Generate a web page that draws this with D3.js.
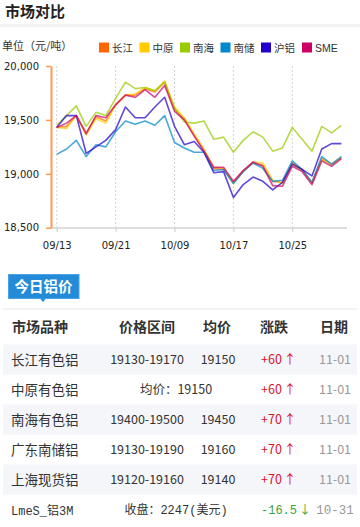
<!DOCTYPE html>
<html><head><meta charset="utf-8">
<script src="https://cdn.jsdelivr.net/npm/d3@7/dist/d3.min.js"></script>
<style>
html,body{margin:0;padding:0;background:#fff;}
svg{display:block;}
</style></head>
<body>
<script>
// ---------- data ----------
const dates = ["09/13","09/14","09/17","09/18","09/19","09/20","09/21","09/25","09/26","09/27","09/28","10/08","10/09","10/10","10/11","10/12","10/15","10/16","10/17","10/18","10/19","10/22","10/23","10/24","10/25","10/26","10/29","10/30","10/31","11/01"];
const xTickLabels = ["09/13","09/21","10/09","10/17","10/25"];
const yTickValues = [18500, 19000, 19500, 20000];

const seriesNames = ["长江","中原","南海","南储","沪铝","SME"];
const seriesColors = ["#ff6600","#ffcc00","#99cc00","#0088cc","#2200cc","#cc0066"];

const changjiang = [19430,19440,19540,19380,19530,19490,19640,19730,19730,19790,19760,19850,19600,19510,19360,19220,19050,19040,18920,19030,19100,19080,18930,18920,19100,19040,18920,19140,19090,19150];
const zhongyuan  = [19430,19420,19540,19360,19510,19470,19640,19730,19740,19800,19770,19860,19620,19520,19370,19230,19060,19050,18910,19020,19110,19100,18940,18910,19090,19030,18910,19130,19090,19150];
const nanhai     = [19450,19540,19630,19440,19570,19540,19700,19850,19790,19800,19770,19850,19610,19480,19470,19490,19320,19340,19200,19310,19390,19340,19210,19240,19430,19320,19210,19440,19380,19450];
const nanchu     = [19180,19230,19310,19160,19270,19250,19390,19490,19460,19490,19450,19540,19290,19240,19200,19200,19030,19040,18910,19020,19100,19050,18930,18940,19120,19040,18920,19160,19090,19160];
const hulv       = [19430,19540,19540,19190,19250,19310,19410,19620,19520,19520,19620,19710,19440,19270,19300,19200,19010,19020,18780,18900,18970,18930,18850,18920,19090,19040,18980,19230,19280,19280];
const sme        = [19430,19470,19540,19370,19540,19520,19640,19730,19710,19780,19710,19820,19580,19500,19350,19210,19060,19060,18930,19030,19110,19070,18890,18885,19070,19020,18900,19120,19070,19140];
const seriesValues = [changjiang, zhongyuan, nanhai, nanchu, hulv, sme];

const tableHeaders = ["市场品种","价格区间","均价","涨跌","日期"];
const tableNames   = ["长江有色铝","中原有色铝","南海有色铝","广东南储铝","上海现货铝","LmeS_铝3M"];
const tableRanges  = ["19130-19170","均价：19150","19400-19500","19130-19190","19120-19160","收盘：2247(美元)"];
const tableAvgs    = ["19150",null,"19450","19160","19140",null];
const tableChanges = ["+60","+60","+70","+70","+70","-16.5"];
const tableDates   = ["11-01","11-01","11-01","11-01","11-01","10-31"];

// ---------- drawing ----------
const W = 360, H = 527;
const svg = d3.select("body").append("svg").attr("width", W).attr("height", H);
const CJK = "'Noto Sans CJK SC', sans-serif";

// title
svg.append("text").attr("x", 5).attr("y", 16.5)
  .attr("font-family", CJK).attr("font-size", 15).attr("font-weight", "bold")
  .attr("fill", "#222").text("市场对比");
svg.append("rect").attr("x", 0).attr("y", 24).attr("width", W).attr("height", 3).attr("fill", "#f2f2f2");

// unit
svg.append("text").attr("x", 2).attr("y", 49.5)
  .attr("font-family", CJK).attr("font-size", 11).attr("fill", "#333").text("单位（元/吨）");

// legend
const legendX = [99, 139.5, 180, 220.5, 261, 302];
const lg = svg.append("g");
seriesNames.forEach((n, i) => {
  lg.append("rect").attr("x", legendX[i]).attr("y", 42.5).attr("width", 10).attr("height", 10).attr("fill", seriesColors[i]);
  lg.append("text").attr("x", legendX[i] + 13).attr("y", 51.5)
    .attr("font-family", i === 5 ? "'Liberation Sans', sans-serif" : CJK)
    .attr("font-size", 10.5).attr("fill", "#333").text(n);
});

// scales
const x = d3.scalePoint().domain(dates).range([56.7, 341.4]);
const y = d3.scaleLinear().domain([18500, 20000]).range([227.7, 66]);

// grid lines
const grid = svg.append("g");
xTickLabels.forEach(t => {
  grid.append("line").attr("x1", x(t)).attr("x2", x(t)).attr("y1", 66).attr("y2", 227)
    .attr("stroke", "#d4d4d4").attr("stroke-dasharray", "2,2").attr("stroke-width", 1);
});

// x axis
svg.append("line").attr("x1", 51).attr("x2", 347).attr("y1", 228).attr("y2", 228)
  .attr("stroke", "#dddddd").attr("stroke-width", 2);
const xAxis = svg.append("g").attr("transform", "translate(0,228)")
  .call(d3.axisBottom(x).tickValues(xTickLabels).tickSize(4).tickSizeOuter(0).tickPadding(10));
xAxis.select(".domain").remove();
xAxis.selectAll(".tick line").attr("stroke", "#cccccc");
xAxis.selectAll(".tick text").attr("font-family", "'DejaVu Sans', sans-serif").attr("font-size", 10)
  .attr("fill", "#222");

// y axis
const yAxis = svg.append("g").attr("transform", "translate(51,0)")
  .call(d3.axisLeft(y).tickValues(yTickValues).tickSize(5).tickSizeOuter(0).tickPadding(7).tickFormat(d3.format(",")));
yAxis.select(".domain").attr("stroke", "#ff9a55").attr("stroke-width", 2);
yAxis.selectAll(".tick line").attr("stroke", "#ff9a55").attr("stroke-width", 1.5);
yAxis.selectAll(".tick text").attr("font-family", "'DejaVu Sans', sans-serif").attr("font-size", 10)
  .attr("fill", "#222");

// lines
const line = d3.line().x((d, i) => x(dates[i])).y(d => y(d));
seriesValues.forEach((vals, i) => {
  svg.append("path").datum(vals).attr("d", line).attr("fill", "none")
    .attr("stroke", seriesColors[i]).attr("stroke-opacity", 0.72).attr("stroke-width", 1.6)
    .attr("stroke-linejoin", "round");
});

// tab
svg.append("rect").attr("x", 8.5).attr("y", 274.5).attr("width", 70.5).attr("height", 24)
  .attr("fill", "#248bd9").attr("stroke", "#4aa3e6").attr("stroke-width", 1);
svg.append("path").attr("d", "M40,298.5 L43,302 L46,298.5 Z").attr("fill", "#248bd9");
svg.append("text").attr("x", 43.5).attr("y", 292).attr("text-anchor", "middle")
  .attr("font-family", CJK).attr("font-size", 14.5).attr("font-weight", "bold").attr("fill", "#fff").text("今日铝价");
svg.append("rect").attr("x", 3).attr("y", 308.5).attr("width", 354).attr("height", 1).attr("fill", "#e6e6e6");

// table header
const colX = [12, 147, 217, 274, 334];
const header = svg.append("g");
tableHeaders.forEach((h, i) => {
  header.append("text").attr("x", colX[i]).attr("y", 332)
    .attr("text-anchor", i === 0 ? "start" : "middle")
    .attr("font-family", CJK).attr("font-size", 14).attr("font-weight", "bold").attr("fill", "#333").text(h);
});

// table rows
const rowCenters = tableNames.map((d, i) => 359.5 + i * 30);
tableNames.forEach((name, i) => {
  const cy = rowCenters[i];
  const g = svg.append("g");
  if (i % 2 === 0) {
    g.append("rect").attr("x", 3).attr("y", cy - 15).attr("width", 354).attr("height", 30).attr("fill", "#f5f6fa");
  }
  const isLme = i === 5;
  const mono = "'Liberation Mono', 'Noto Sans CJK SC', monospace";
  g.append("text").attr("x", 11).attr("y", cy + 5)
    .attr("font-family", isLme ? mono : CJK).attr("font-size", isLme ? 12 : 13.5).attr("fill", "#333").text(name);
  if (tableAvgs[i] === null) {
    g.append("text").attr("x", 176).attr("y", cy + 4.5).attr("text-anchor", "middle")
      .attr("font-family", isLme ? mono : CJK).attr("font-size", isLme ? 12 : 12.5).attr("fill", "#333").text(tableRanges[i]);
  } else {
    g.append("text").attr("x", 147).attr("y", cy + 4.5).attr("text-anchor", "middle")
      .attr("font-family", CJK).attr("font-size", 12.5).attr("fill", "#333").text(tableRanges[i]);
    g.append("text").attr("x", 218).attr("y", cy + 4.5).attr("text-anchor", "middle")
      .attr("font-family", CJK).attr("font-size", 12.5).attr("fill", "#333").text(tableAvgs[i]);
  }
  const up = tableChanges[i][0] === "+";
  const col = up ? "#d7122b" : "#3aa53a";
  const t = g.append("text").attr("x", 261).attr("y", cy + 4.5)
    .attr("font-family", isLme ? mono : CJK).attr("font-size", isLme ? 12 : 12.5).attr("fill", col);
  t.append("tspan").text(tableChanges[i]);
  t.append("tspan").attr("dx", 2).attr("font-family", CJK).text(up ? "↑" : "↓");
  g.append("text").attr("x", 335).attr("y", cy + 4.5).attr("text-anchor", "middle")
    .attr("font-family", isLme ? mono : CJK).attr("font-size", 12.5).attr("fill", "#999").text(tableDates[i]);
});
</script>
</body></html>
